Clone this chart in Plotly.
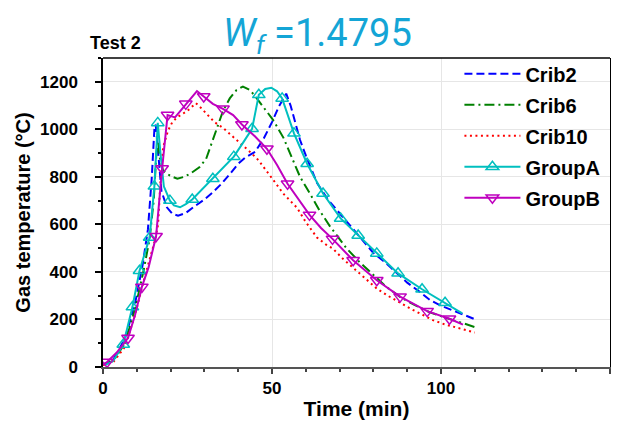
import plotly.graph_objects as go

# ---- data ----
crib2_t = [0, 3, 6.5, 9.5, 11.8, 13.3, 14.4, 15.2, 15.6, 16.3, 17.3, 18.9, 20.5, 22.2, 24.5, 27, 30, 32.5, 35,
           37.6, 40, 42, 45, 47.5, 50, 52, 54.2, 55.5, 57, 58.3, 60, 63.3, 66.5, 70.1, 73.5, 77, 80, 83.5, 87,
           90, 93.5, 96.7, 100, 103, 106.5, 110]
crib2_T = [10, 30, 120, 268, 436, 580, 790, 1000, 1020, 900, 740, 672, 645, 637, 648, 675, 705, 735, 770,
           813, 855, 880, 905, 960, 1030, 1095, 1150, 1100, 1020, 955, 890, 775, 705, 646, 590, 532, 480, 440, 394,
           355, 318, 282, 258, 240, 220, 201]

crib6_t = [0, 3, 6.5, 9.5, 12, 13.8, 15, 15.8, 16.3, 16.8, 17.8, 19.8, 22, 24, 26, 28.5, 30.5, 32.2, 33.5, 35.5,
           37.5, 39.5, 41.4, 43.5, 45.4, 48, 50.3, 53.4, 56.3, 58.3, 61.2, 64, 67, 69.3, 72, 76, 80, 84, 88, 92,
           96.7, 100, 104, 107, 110]
crib6_T = [10, 25, 100, 245, 405, 540, 700, 900, 950, 880, 826, 805, 792, 800, 815, 840, 875, 943, 1000, 1077,
           1130, 1165, 1180, 1165, 1132, 1085, 1040, 964, 870, 800, 730, 660, 595, 550, 500, 440, 386, 335, 294, 262,
           230, 213, 195, 182, 168]

crib10_t = [0, 3, 6.5, 9.5, 12, 14, 15.5, 16.3, 17, 17.8, 19.2, 20.5, 21.9, 24.9, 27.5, 29, 31, 33, 35.5, 38,
            40.5, 43.5, 46, 48.5, 51, 53.3, 55.5, 57.4, 60, 63.3, 66, 68, 71, 74.5, 78, 81, 84.5, 88, 91, 94.5,
            97.6, 101, 104, 107, 110]
crib10_T = [8, 20, 85, 220, 360, 470, 540, 600, 780, 925, 993, 1030, 1050, 1077, 1110, 1090, 1060, 1030, 1006,
            975, 945, 905, 870, 820, 775, 730, 700, 670, 610, 545, 515, 498, 455, 410, 365, 330, 298, 268, 245,
            220, 197, 180, 168, 155, 145]

groupA_t = [0.5, 3, 6, 8.7, 10.8, 13.8, 15.2, 16.2, 17, 18, 19.8, 21, 22.8, 24.5, 26.4, 29.5, 32.5, 35.5, 38.7,
            41.5, 44.1, 46.1, 48, 49.8, 51.5, 53, 56.5, 60.4, 65.1, 70.3, 75.5, 81, 87.3, 94.4, 101.2, 106.3]
groupA_T = [8, 25, 95, 252, 405, 545, 760, 1027, 900, 760, 700, 680, 672, 685, 705, 750, 792, 840, 885,
            945, 1002, 1145, 1170, 1175, 1160, 1130, 983, 855, 730, 625, 553, 478, 394, 327, 270, 226]
groupA_mark = [0, 0, 1, 1, 1, 1, 1, 1, 0, 0, 1, 0, 0, 0, 1, 0, 1, 0, 1,
               0, 1, 1, 0, 0, 0, 1, 1, 1, 1, 1, 1, 1, 1, 1, 1, 0]

groupB_t = [0, 1.2, 4, 7.4, 9.5, 11.5, 13.5, 15.7, 17.5, 19.1, 21.3, 24.5, 27.8, 29.8, 32.5, 35.5, 38.5, 41.1,
            45, 48.5, 51.5, 54.6, 61.1, 64.5, 67.9, 74, 81, 87.9, 95.9, 102.5, 106.5]
groupB_T = [10, 21, 60, 122, 220, 337, 420, 550, 835, 1060, 1050, 1107, 1161, 1138, 1107, 1086, 1060, 1020,
            970, 918, 850, 771, 640, 585, 539, 449, 365, 296, 235, 203, 178]
groupB_mark = [0, 1, 0, 1, 0, 1, 0, 1, 1, 1, 0, 1, 0, 1, 0, 1, 0, 1,
               0, 1, 0, 1, 1, 0, 1, 1, 1, 1, 1, 1, 0]

y_ticks = [0, 200, 400, 600, 800, 1000, 1200]
x_ticks = [0, 50, 100, 150]

MS = 11


def marked(flags):
    return [i for i, m in enumerate(flags) if m]


fig = go.Figure()
fig.add_trace(go.Scatter(x=crib2_t, y=crib2_T, mode="lines", name="Crib2", legendgroup="a",
                         line=dict(color="#0000ff", width=2, dash="8px,4px")))
fig.add_trace(go.Scatter(x=crib6_t, y=crib6_T, mode="lines", name="Crib6", legendgroup="b",
                         line=dict(color="#008000", width=2, dash="10px,4px,2px,4px")))
fig.add_trace(go.Scatter(x=crib10_t, y=crib10_T, mode="lines", name="Crib10", legendgroup="c",
                         line=dict(color="#ff0000", width=2, dash="2px,3.5px")))
fig.add_trace(go.Scatter(x=groupA_t, y=groupA_T, mode="lines+markers", name="GroupA", legendgroup="d",
                         line=dict(color="#00bfbf", width=2),
                         marker=dict(symbol="triangle-up-open", size=MS,
                                     color="#00bfbf", line=dict(width=1.5, color="#00bfbf")),
                         selectedpoints=marked(groupA_mark),
                         selected=dict(marker=dict(opacity=1)),
                         unselected=dict(marker=dict(opacity=0))))
fig.add_trace(go.Scatter(x=groupB_t, y=groupB_T, mode="lines+markers", name="GroupB", legendgroup="e",
                         line=dict(color="#bf00bf", width=2),
                         marker=dict(symbol="triangle-down-open", size=MS,
                                     color="#bf00bf", line=dict(width=1.5, color="#bf00bf")),
                         selectedpoints=marked(groupB_mark),
                         selected=dict(marker=dict(opacity=1)),
                         unselected=dict(marker=dict(opacity=0))))

font_main = "Liberation Sans, Arial, sans-serif"
# the page body has an 8px margin; the figure is sized so it ends at the window edge
fig.update_layout(
    width=611, height=419,
    margin=dict(l=95, r=9, t=50, b=60, autoexpand=False),
    paper_bgcolor="white", plot_bgcolor="white",
    font=dict(family=font_main, color="black", size=17),
    showlegend=True,
    legend=dict(x=0.703, y=1.012, xanchor="left", yanchor="top",
                font=dict(family=font_main, size=20, weight="bold"),
                bgcolor="rgba(0,0,0,0)", itemwidth=56, traceorder="grouped", tracegroupgap=2),
    xaxis=dict(range=[0, 150], tickvals=x_ticks, ticks="outside", ticklen=5, tickwidth=1.5,
               tickcolor="#444", showline=True, linecolor="#555", linewidth=2,
               showgrid=True, gridcolor="#e6e6e6", gridwidth=1, zeroline=False, automargin=False,
               tickfont=dict(size=17, weight="bold"),
               minor=dict(dtick=10, ticks="outside", ticklen=3, tickcolor="#444", showgrid=False),
               title=dict(text="<b>Time (min)</b>", font=dict(size=21), standoff=4)),
    yaxis=dict(range=[0, 1300], tickvals=y_ticks, ticks="outside", ticklen=6, tickwidth=1.5,
               tickcolor="black", showline=True, linecolor="black", linewidth=1.5, mirror=True,
               showgrid=True, gridcolor="#e6e6e6", gridwidth=1, zeroline=False, automargin=False,
               tickfont=dict(size=17, weight="bold"), ticklabelstandoff=14,
               minor=dict(dtick=100, ticks="outside", ticklen=3, tickcolor="black", showgrid=False),
               title=dict(text="<b>Gas temperature (°C)</b>", font=dict(size=20), standoff=4)),
    shapes=[dict(type="line", xref="paper", yref="paper", x0=0, x1=1, y0=1, y1=1,
                 line=dict(color="black", width=1.5))],
    annotations=[
        dict(text="<b>Test 2</b>", xref="paper", yref="paper", x=-0.03, y=1.0, xanchor="left",
             yanchor="bottom", yshift=3, showarrow=False, font=dict(size=18, family=font_main)),
        dict(text="<i>W</i><sub><i>f</i></sub> =1.4795", xref="paper", yref="paper", x=0.235, y=1.0,
             xanchor="left", yanchor="bottom", yshift=-4, xshift=-1, showarrow=False,
             font=dict(size=38, family="Roboto, sans-serif", color="#14a5d6")),
    ],
)

fig.write_html("out.html")
